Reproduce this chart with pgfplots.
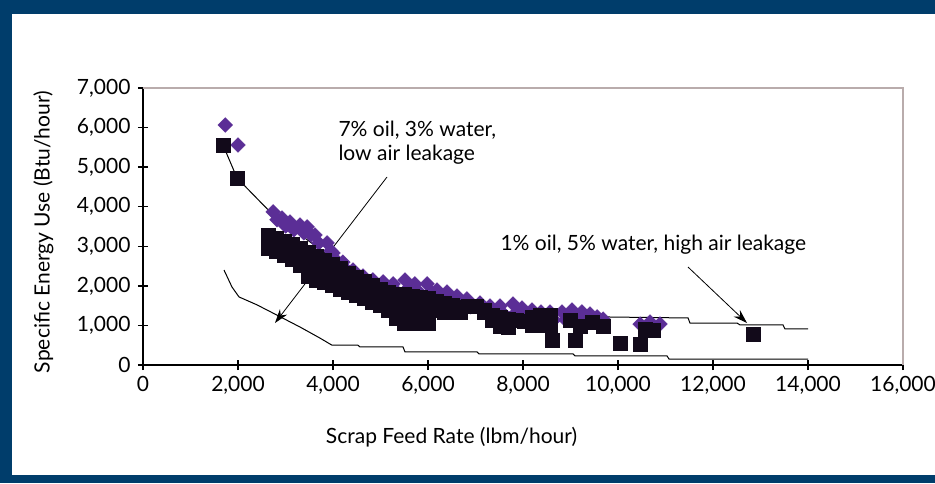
\documentclass[border=0pt]{standalone}
\usepackage{fontspec}
\setmainfont{Lato}
\usepackage{pgfplots}
\pgfplotsset{compat=1.18}
\usetikzlibrary{arrows.meta}
\definecolor{frameblue}{RGB}{0,61,107}
\definecolor{diam}{RGB}{91,46,150}
\definecolor{sq}{RGB}{18,10,26}
\definecolor{boxgray}{RGB}{185,172,172}
\newcommand{\lbl}{\fontsize{21}{24}\selectfont}

\begin{document}
\begin{tikzpicture}[x=1pt,y=1pt]
\useasboundingbox (0,0) rectangle (935,483);
\fill[white] (0,0) rectangle (935,483);
\begin{axis}[
  at={(143pt,118pt)}, anchor=south west, scale only axis,
  width=760pt, height=277pt,
  xmin=0, xmax=16000, ymin=0, ymax=7000,
  xtick={0,2000,...,16000}, ytick={0,1000,...,7000},
  scaled ticks=false,
  /pgf/number format/.cd, 1000 sep={,}, assume math mode=true, /pgfplots/.cd,
  axis lines=left, axis line style={-, line width=1.5pt, black},
  tick align=center, major tick length=10pt,
  tick style={black, line width=1.3pt},
  tick label style={font=\lbl},
  yticklabel style={xshift=-4pt},
  xticklabel style={yshift=-3pt},
  label style={font=\lbl},
  xlabel={Scrap Feed Rate (lbm/hour)},
  ylabel={Specific Energy Use (Btu/hour)},
  xlabel style={at={(axis description cs:0.406,-0.26)}, anchor=center},
  ylabel style={at={(axis description cs:-0.131,0.48)}, anchor=center},
  clip=false,
]
\draw[boxgray, line width=1.5pt] (rel axis cs:0,1) -- (rel axis cs:1,1) -- (rel axis cs:1,0);

% 7% oil, 3% water, low air leakage
\addplot[black, line width=1pt] coordinates {
 (1705,2400) (1874,1970) (2021,1720) (2400,1520) (2821,1260) (3305,960)
 (3726,680) (3979,500) (4526,500) (4568,455) (5474,455) (5516,330)
 (7032,330) (7074,280) (9053,280) (9095,230) (11032,230) (11074,150)
 (14000,150)
};
% 1% oil, 5% water, high air leakage
\addplot[black, line width=1pt] coordinates {
 (1684,5560) (1980,4725) (2610,3950) (3305,3300) (4360,2350) (5410,1850)
 (6460,1550) (7515,1350) (8675,1290) (9830,1213) (11475,1188) (11515,1061)
 (12505,1061) (12570,1011) (13475,1011) (13515,910) (14000,910)
};

\addplot[only marks, mark=square*, mark size=5.2pt,
  mark options={rotate=45, fill=diam, draw=diam}] coordinates {
 (1730,6065) (2000,5560) (2740,3870) (2925,3715) (3095,3615) (3305,3540)
 (3455,3490) (3620,3285) (3875,3085) (4000,2830) (4210,2600) (4420,2400)
 (4630,2250) (4840,2150) (5055,2100) (5265,2050) (5515,2150) (5725,2050)
 (5980,2050) (6190,1895) (6400,1845) (6610,1745) (6820,1670) (7095,1565)
 (7305,1490) (7515,1490) (7790,1540) (7980,1440) (8190,1390) (8380,1340)
 (8570,1340) (8820,1340) (9030,1390) (9240,1340) (9410,1290) (9560,1215)
 (9685,1160) (10465,1035) (10675,1085) (10885,1035)
 (2820,3670) (3005,3515) (3175,3415) (3385,3340) (3535,3290) (3700,3085)
 (3955,2885) (4080,2630) (4290,2400) (4500,2200) (4710,2050) (4920,1950)
 (5135,1900) (5345,1850) (5595,1950) (5805,1850) (6060,1850) (6270,1695)
 (6480,1645) (6690,1545) (6900,1470) (7175,1365) (7385,1290) (7595,1290)
 (7870,1340) (8060,1240) (8270,1190) (8460,1140) (8650,1140) (8900,1140)
 (9110,1190) (9320,1140) (9490,1090)
};

\addplot[only marks, mark=square*, mark size=7pt,
  mark options={fill=sq, draw=sq}] coordinates {
 (1684,5560) (1979,4725)
 (2630,3290) (2630,3120) (2630,2960)
 (2800,3200) (2800,2880)
 (2970,3130) (2970,2780)
 (3140,3050) (3140,2680)
 (3305,2960) (3305,2700) (3305,2530)
 (3475,2860) (3475,2510) (3475,2250)
 (3640,2760) (3640,2410) (3640,2150)
 (3810,2660) (3810,2340) (3810,2100)
 (3980,2560) (3980,2250) (3980,2020)
 (4150,2440) (4150,2150) (4150,1920)
 (4315,2330) (4315,2060) (4315,1850)
 (4485,2230) (4485,1970) (4485,1770)
 (4655,2120) (4655,1880) (4655,1690)
 (4820,2010) (4820,1780) (4820,1590)
 (4990,1910) (4990,1690) (4990,1520)
 (5160,1850) (5160,1600) (5160,1390)
 (5325,1800) (5325,1480) (5325,1190)
 (5495,1790) (5495,1530) (5495,1300) (5495,1060)
 (5665,1740) (5665,1500) (5665,1280) (5665,1060)
 (5830,1710) (5830,1480) (5830,1270) (5830,1060)
 (6000,1690) (6000,1470) (6000,1260) (6000,1060)
 (6170,1620) (6170,1380)
 (6335,1570) (6335,1330)
 (6505,1520) (6505,1330)
 (6675,1470) (6675,1330)
 (6840,1490) (7010,1490)
 (7180,1390) (7180,1340)
 (7345,1260) (7345,1140)
 (7515,1210) (7515,990)
 (7685,1160) (7685,960)
 (7855,1130) (8020,1100)
 (8190,1200) (8190,1000)
 (8360,1260) (8360,1000) (8570,1260) (8570,1000) (8610,630)
 (8990,1140) (9200,990) (9095,630) (9450,1090) (9685,990)
 (10040,560) (10465,530) (10570,910) (10735,885) (12840,780)
};

\node[font=\lbl, anchor=base west] at (4042,5762) {7\% oil, 3\% water,};
\node[font=\lbl, anchor=base west] at (4042,5180) {low air leakage};
\draw[-{Stealth[length=14pt,width=9pt]}, line width=0.8pt] (5137,4751) -- (2779,1061);
\node[font=\lbl, anchor=base west] at (7453,2906) {1\% oil, 5\% water, high air leakage};
\draw[-{Stealth[length=14pt,width=9pt]}, line width=0.8pt] (11474,2476) -- (12716,1061);
\end{axis}
\fill[frameblue] (0,469) rectangle (935,483);
\fill[frameblue] (0,0) rectangle (12,483);
\fill[frameblue] (0,0) rectangle (935,8);
\end{tikzpicture}
\end{document}
